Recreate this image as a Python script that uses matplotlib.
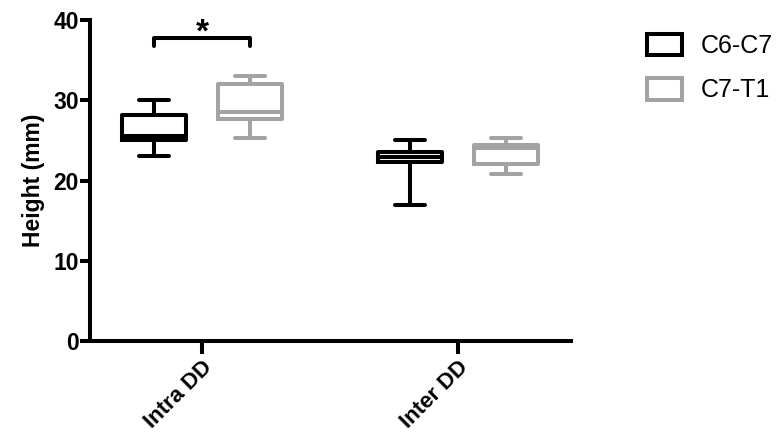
import numpy as np
import matplotlib.pyplot as plt
from matplotlib.patches import Rectangle

plt.rcParams['font.family'] = ['Liberation Sans', 'DejaVu Sans']

groups = ['Intra DD', 'Inter DD']
series = ['C6-C7', 'C7-T1']
colors = ['#000000', '#a3a3a3']

# box summary per series: (whislo, q1, med, q3, whishi), one tuple per group
stats_c6c7 = [(23.1, 25.0, 25.6, 28.1, 30.0), (16.9, 22.3, 22.9, 23.5, 25.0)]
stats_c7t1 = [(25.3, 27.6, 28.5, 32.0, 33.0), (20.8, 22.0, 24.0, 24.4, 25.3)]

sig_pair = (0, 1)   # group index with a significant difference
sig_y = 37.8
sig_label = '*'

fig = plt.figure(figsize=(7.83, 4.43), dpi=100)
ax = fig.add_axes([0.115, 0.23, 0.614, 0.725])

lw = 2.9
x = np.arange(len(groups))
for k, (stats, col) in enumerate(zip([stats_c6c7, stats_c7t1], colors)):
    off = -0.1875 if k == 0 else 0.1875
    bxp = []
    for s in stats:
        bxp.append(dict(whislo=s[0], q1=s[1], med=s[2], q3=s[3], whishi=s[4], fliers=[]))
    line = dict(color=col, linewidth=lw, solid_capstyle='round')
    ax.bxp(bxp, positions=x + off, widths=0.25, capwidths=0.12,
           showfliers=False, manage_ticks=False,
           boxprops=dict(color=col, linewidth=lw),
           medianprops=line, whiskerprops=line, capprops=line)

# significance bracket
x1 = x[sig_pair[0]] - 0.1875
x2 = x[sig_pair[0]] + 0.1875
ax.plot([x1, x1, x2, x2], [sig_y - 1.1, sig_y, sig_y, sig_y - 1.1],
        color='black', linewidth=lw, solid_capstyle='round', clip_on=False)
ax.text((x1 + x2) / 2, sig_y + 0.6, sig_label, ha='center', va='center',
        fontsize=24, fontweight='bold')

ax.set_xlim(-0.4375, 1.441)
ax.set_ylim(0, 40)
ax.set_yticks([0, 10, 20, 30, 40])
ax.set_xticks(x)
ax.set_xticklabels(groups, rotation=45, ha='right', rotation_mode='anchor',
                   fontsize=16, fontweight='bold')
for lab in ax.get_yticklabels():
    lab.set_fontsize(16.5)
    lab.set_fontweight('bold')
ax.set_ylabel('Height (mm)', fontsize=16.5, fontweight='bold', labelpad=6)

for side in ['top', 'right']:
    ax.spines[side].set_visible(False)
for side in ['left', 'bottom']:
    ax.spines[side].set_linewidth(lw)
ax.tick_params(axis='both', width=lw, length=7, pad=1)
ax.tick_params(axis='x', length=9, pad=2)

handles = [Rectangle((0, 0), 1, 1, facecolor='white', edgecolor=c, linewidth=lw)
           for c in colors]
fig.legend(handles, series, loc='upper left', bbox_to_anchor=(0.797, 0.975),
           frameon=False, fontsize=18, handlelength=1.4, handleheight=0.95,
           handletextpad=0.75, labelspacing=0.8)

fig.savefig('out.png', dpi=100)
